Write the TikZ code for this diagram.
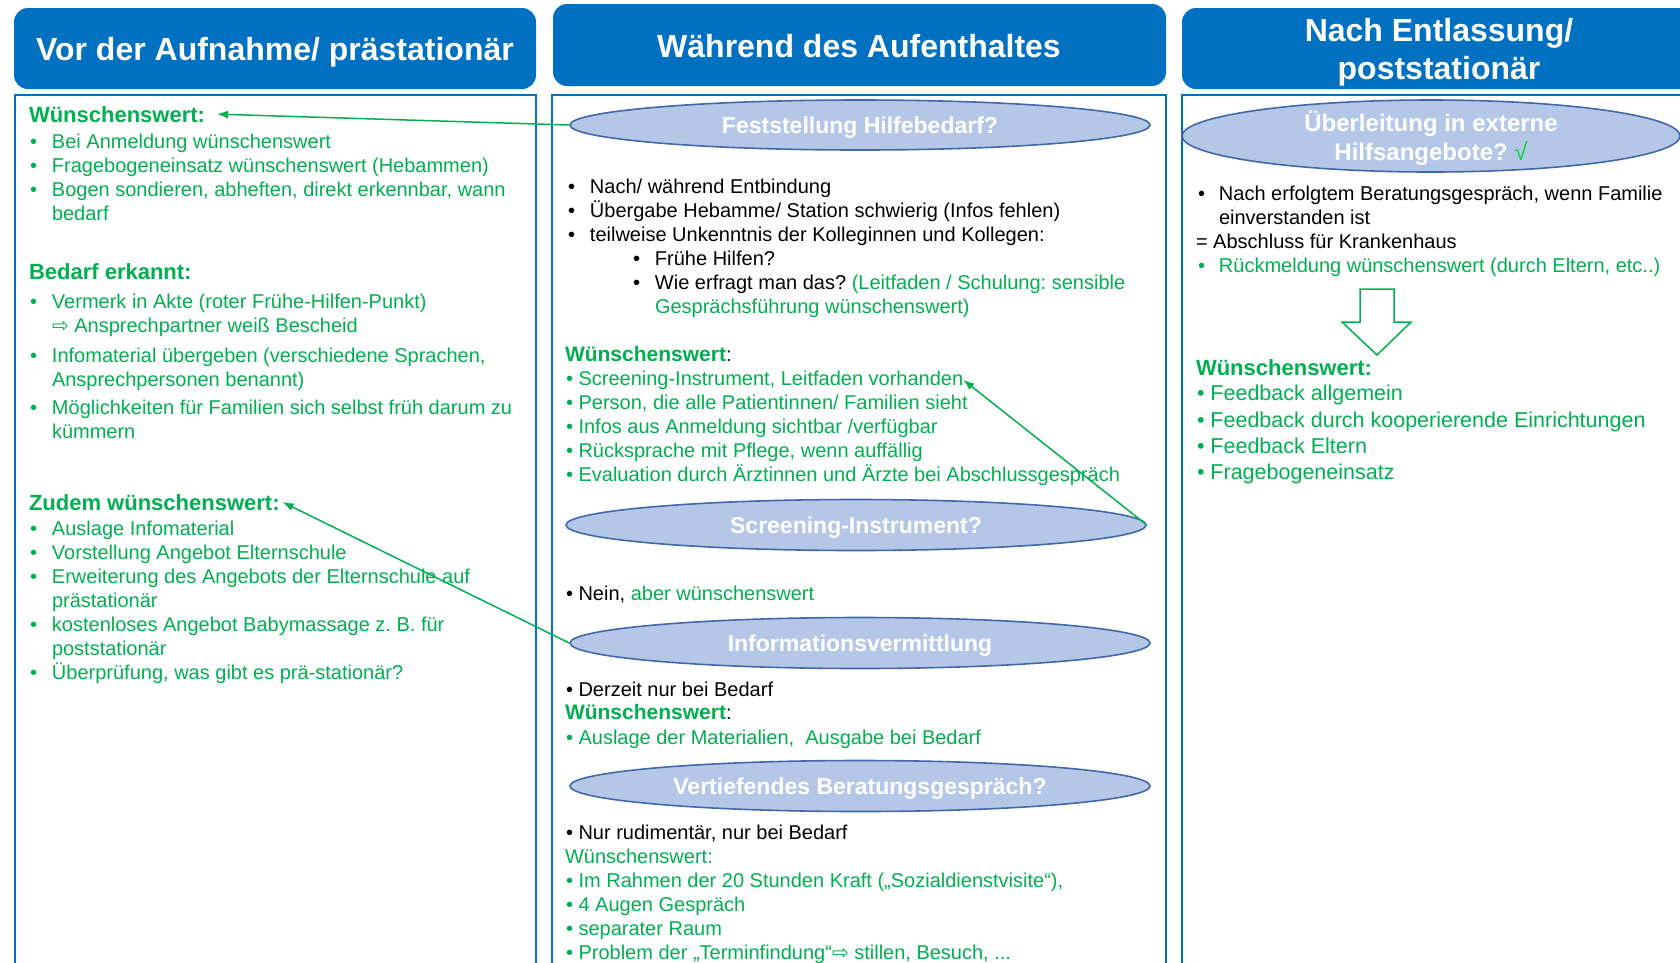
\documentclass[tikz,border=0pt]{standalone}
\usepackage{fontspec}
\setmainfont{Liberation Sans}
\newfontfamily\dvfont{DejaVu Sans}
\usetikzlibrary{shapes.geometric,arrows.meta}
\definecolor{hblue}{RGB}{0,112,192}
\definecolor{bline}{RGB}{0,112,192}
\definecolor{efill}{RGB}{180,199,231}
\definecolor{edraw}{RGB}{65,105,170}
\definecolor{grn}{RGB}{0,176,80}
\definecolor{chk}{RGB}{0,210,60}
\newcommand\myarr{{\dvfont ⇨}}
\newcommand\bul{\makebox[22pt][l]{•}}
\newcommand\rbul{\makebox[21pt][l]{•}}
\begin{document}
\frenchspacing
\begin{tikzpicture}[x=1pt,y=-1pt,
  hdr/.style={fill=hblue, draw=none, rounded corners=14pt},
  htxt/.style={text=white, font=\fontsize{32}{38}\selectfont\bfseries, inner sep=0, anchor=base},
  colbox/.style={draw=bline, line width=1.6pt},
  ell/.style={ellipse, fill=efill, draw=edraw, line width=1.6pt, inner sep=0, text=white, text height=17pt, text depth=0pt, font=\fontsize{23}{28}\selectfont\bfseries},
  etxt/.style={text=white, font=\fontsize{24}{28}\selectfont\bfseries, inner sep=0, anchor=base},
  tx/.style={anchor=base west, inner sep=0, outer sep=0, font=\fontsize{20}{24}\selectfont\frenchspacing},
  txb/.style={anchor=base west, inner sep=0, outer sep=0, font=\fontsize{22}{26}\selectfont\bfseries},
  txr/.style={anchor=base west, inner sep=0, outer sep=0, font=\fontsize{21.5}{26}\selectfont},
  gtext/.style={text=grn},
  con/.style={draw=grn, line width=1.5pt, -{Latex[length=11pt,width=8pt]}},
]
\useasboundingbox (0,0) rectangle (1680,962);
\clip (0,0) rectangle (1680,962);
\fill[white] (0,0) rectangle (1680,962);

% headers
\fill[hdr] (14,8) rectangle (536,89);
\fill[hdr] (553,4) rectangle (1166,86);
\fill[hdr] (1182,8) rectangle (1710,89);
\node[htxt] (H1) at (275,60) {Vor der Aufnahme/ prästationär};
\node[htxt] (H2) at (859,57) {Während des Aufenthaltes};
\node[htxt] (H3a) at (1439,41) {Nach Entlassung/};
\node[htxt] (H3b) at (1439,79) {poststationär};

% column boxes
\draw[colbox] (15,980) -- (15,95) -- (536,95) -- (536,980);
\draw[colbox] (552,980) -- (552,95) -- (1166,95) -- (1166,980);
\draw[colbox] (1182,980) -- (1182,95) -- (1710,95);

% ellipses
\node[ell, minimum width=580pt, minimum height=50pt] (FH) at (860,125) {Feststellung Hilfebedarf?};
\node[ell, minimum width=580pt, minimum height=51pt] (SI) at (856,525) {Screening-Instrument?};
\node[ell, minimum width=580pt, minimum height=51pt] (IV) at (860,643) {Informationsvermittlung};
\node[ell, minimum width=580pt, minimum height=51pt] (VB) at (860,786) {Vertiefendes Beratungsgespräch?};
\node[ell, minimum width=498pt, minimum height=72pt] (UE) at (1431,136) {};
\node[etxt] (UE1) at (1431,131) {Überleitung in externe};
\node[etxt] (UE2) at (1431,160) {Hilfsangebote? {\mdseries\color{chk}√}};

% left column
\node[txb,gtext] (W1) at (29,122) {Wünschenswert:};
\node[tx,gtext] (L1) at (30,148) {\bul Bei Anmeldung wünschenswert};
\node[tx,gtext] (L2) at (30,172) {\bul Fragebogeneinsatz wünschenswert (Hebammen)};
\node[tx,gtext] (L3) at (30,196) {\bul Bogen sondieren, abheften, direkt erkennbar, wann};
\node[tx,gtext] (L4) at (52,220) {bedarf};
\node[txb,gtext] (B1) at (29,279) {Bedarf erkannt:};
\node[tx,gtext] (L5) at (30,308) {\bul Vermerk in Akte (roter Frühe-Hilfen-Punkt)};
\node[tx,gtext] (L6) at (52,332) {\myarr{} Ansprechpartner weiß Bescheid};
\node[tx,gtext] (L7) at (30,362) {\bul Infomaterial übergeben (verschiedene Sprachen,};
\node[tx,gtext] (L8) at (52,386) {Ansprechpersonen benannt)};
\node[tx,gtext] (L9) at (30,414) {\bul Möglichkeiten für Familien sich selbst früh darum zu};
\node[tx,gtext] (L10) at (52,438) {kümmern};
\node[txb,gtext] (Z1) at (29,510) {Zudem wünschenswert:};
\node[tx,gtext] (L11) at (30,535) {\bul Auslage Infomaterial};
\node[tx,gtext] (L12) at (30,559) {\bul Vorstellung Angebot Elternschule};
\node[tx,gtext] (L13) at (30,583) {\bul Erweiterung des Angebots der Elternschule auf};
\node[tx,gtext] (L14) at (52,607) {prästationär};
\node[tx,gtext] (L15) at (30,631) {\bul kostenloses Angebot Babymassage z. B. für};
\node[tx,gtext] (L16) at (52,655) {poststationär};
\node[tx,gtext] (L17) at (30,679) {\bul Überprüfung, was gibt es prä-stationär?};

% middle column
\node[tx] (M1) at (568,193) {\bul Nach/ während Entbindung};
\node[tx] (M2) at (568,217) {\bul Übergabe Hebamme/ Station schwierig (Infos fehlen)};
\node[tx] (M3) at (568,241) {\bul teilweise Unkenntnis der Kolleginnen und Kollegen:};
\node[tx] (M4) at (633,265) {\bul Frühe Hilfen?};
\node[tx] (M5) at (633,289) {\bul Wie erfragt man das? {\color{grn}(Leitfaden / Schulung: sensible}};
\node[tx,gtext] (M6) at (655,313) {Gesprächsführung wünschenswert)};
\node[tx] (MW1) at (565,361) {{\fontsize{21}{24}\selectfont\bfseries\color{grn}Wünschenswert}:};
\node[tx,gtext] (M7) at (566,385) {• Screening-Instrument, Leitfaden vorhanden};
\node[tx,gtext] (M8) at (566,409) {• Person, die alle Patientinnen/ Familien sieht};
\node[tx,gtext] (M9) at (566,433) {• Infos aus Anmeldung sichtbar /verfügbar};
\node[tx,gtext] (M10) at (566,457) {• Rücksprache mit Pflege, wenn auffällig};
\node[tx,gtext] (M11) at (566,481) {• Evaluation durch Ärztinnen und Ärzte bei Abschlussgespräch};
\node[tx] (M12) at (566,600) {• Nein, {\color{grn}aber wünschenswert}};
\node[tx] (M13) at (566,696) {• Derzeit nur bei Bedarf};
\node[tx] (MW2) at (565,719) {{\fontsize{21}{24}\selectfont\bfseries\color{grn}Wünschenswert}:};
\node[tx,gtext] (M14) at (566,744) {• Auslage der Materialien,\ \ Ausgabe bei Bedarf};
\node[tx] (M15) at (566,839) {• Nur rudimentär, nur bei Bedarf};
\node[tx,gtext] (M16) at (565,863) {Wünschenswert:};
\node[tx,gtext] (M17) at (566,887) {• Im Rahmen der 20 Stunden Kraft („Sozialdienstvisite“),};
\node[tx,gtext] (M18) at (566,911) {• 4 Augen Gespräch};
\node[tx,gtext] (M19) at (566,935) {• separater Raum};
\node[tx,gtext] (M20) at (566,959) {• Problem der „Terminfindung“\myarr{} stillen, Besuch, ...};

% right column
\node[tx] (R1) at (1198,200) {\rbul Nach erfolgtem Beratungsgespräch, wenn Familie};
\node[tx] (R2) at (1219,224) {einverstanden ist};
\node[tx] (R3) at (1196,248) {= Abschluss für Krankenhaus};
\node[tx,gtext] (R4) at (1198,272) {\rbul Rückmeldung wünschenswert (durch Eltern, etc..)};
\draw[draw=grn, line width=1.5pt, fill=white] (1360,289) -- (1394,289) -- (1394,322) -- (1411,322) -- (1377,355) -- (1342,322) -- (1360,322) -- cycle;
\node[txb,gtext] (RW) at (1196,375) {Wünschenswert:};
\node[txr,gtext] (R5) at (1197,400) {• Feedback allgemein};
\node[txr,gtext] (R6) at (1197,427) {• Feedback durch kooperierende Einrichtungen};
\node[txr,gtext] (R7) at (1197,453) {• Feedback Eltern};
\node[txr,gtext] (R8) at (1197,479) {• Fragebogeneinsatz};

% connectors
\draw[con] (FH.west) -- ([xshift=12pt]W1.east);
\draw[con] (SI.east) -- (M7.east);
\draw[con] (IV.west) -- ([xshift=3pt]Z1.east);
\end{tikzpicture}
\end{document}
